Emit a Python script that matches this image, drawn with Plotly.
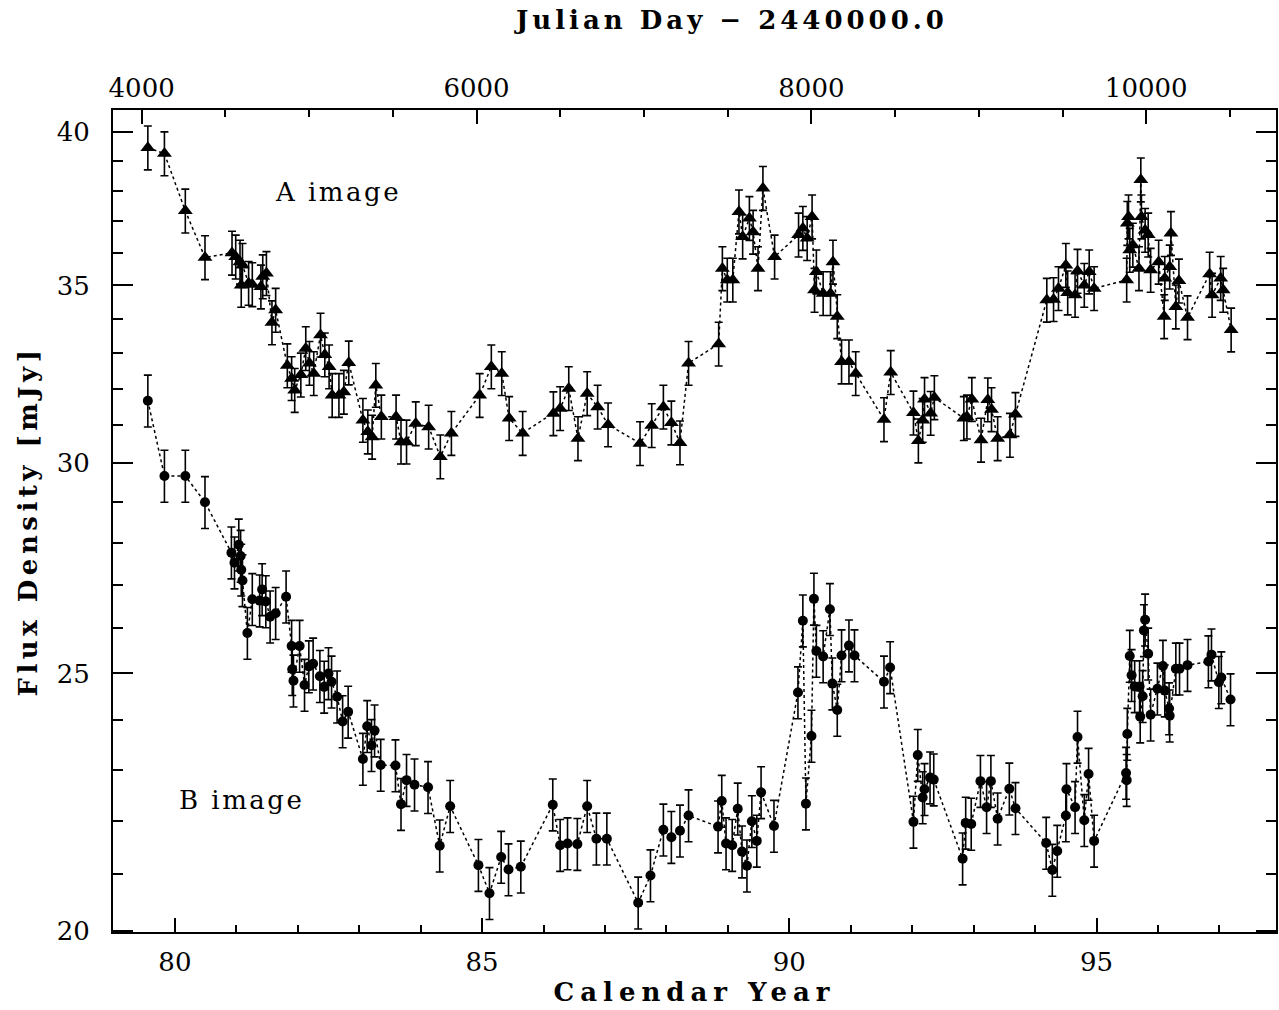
import plotly.graph_objects as go

# Radio light curves of the two lensed images (flux density in mJy)
year_a = [79.56, 79.83, 80.17, 80.49, 80.93, 80.99, 81.06, 81.08, 81.10, 81.20,
          81.26, 81.40, 81.43, 81.49, 81.58, 81.64, 81.83, 81.90, 81.95, 82.05,
          82.13, 82.19, 82.26, 82.37, 82.44, 82.51, 82.56, 82.67, 82.75, 82.83,
          83.06, 83.14, 83.21, 83.27, 83.36, 83.60, 83.68, 83.77, 83.92, 84.13,
          84.32, 84.50, 84.96, 85.15, 85.32, 85.44, 85.66, 86.16, 86.27, 86.41,
          86.56, 86.71, 86.88, 87.05, 87.57, 87.76, 87.95, 88.08, 88.22, 88.36,
          88.85, 88.91, 88.99, 89.08, 89.18, 89.24, 89.35, 89.41, 89.49, 89.57,
          89.76, 90.15, 90.22, 90.29, 90.37, 90.41, 90.44, 90.55, 90.67, 90.71,
          90.78, 90.85, 90.97, 91.08, 91.54, 91.65, 92.02, 92.10, 92.17, 92.20,
          92.30, 92.36, 92.84, 92.89, 92.97, 93.12, 93.23, 93.29, 93.39, 93.59,
          93.68, 94.19, 94.30, 94.38, 94.50, 94.53, 94.65, 94.69, 94.80, 94.88,
          94.96, 95.49, 95.50, 95.52, 95.54, 95.59, 95.69, 95.72, 95.73, 95.79,
          95.84, 95.88, 96.01, 96.10, 96.11, 96.19, 96.21, 96.29, 96.34, 96.48,
          96.84, 96.88, 97.02, 97.06, 97.19]
flux_a = [39.44, 39.24, 37.34, 35.86, 36.00, 35.88, 35.72, 35.01, 35.62, 35.07,
          35.03, 34.96, 35.27, 35.37, 33.89, 34.26, 32.65, 32.29, 31.96, 32.39,
          33.14, 32.72, 32.43, 33.53, 32.96, 32.62, 31.82, 31.82, 31.91, 32.73,
          31.14, 30.83, 30.69, 32.10, 31.23, 31.23, 30.56, 30.56, 31.05, 30.96,
          30.17, 30.79, 31.82, 32.62, 32.43, 31.19, 30.79, 31.32, 31.46, 32.01,
          30.65, 31.87, 31.50, 31.02, 30.52, 31.00, 31.50, 31.07, 30.54, 32.72,
          33.27, 35.52, 35.17, 35.17, 37.31, 36.51, 37.10, 36.66, 35.52, 38.08,
          35.88, 36.57, 36.78, 36.46, 37.15, 34.86, 35.42, 34.76, 34.76, 35.72,
          34.07, 32.76, 32.76, 32.43, 31.16, 32.46, 31.34, 30.59, 31.14, 31.71,
          31.33, 31.76, 31.19, 31.23, 31.71, 30.61, 31.70, 31.43, 30.65, 30.74,
          31.30, 34.56, 34.58, 34.91, 35.62, 34.78, 34.71, 35.44, 35.01, 35.42,
          34.91, 35.17, 36.94, 37.15, 36.09, 36.25, 35.52, 38.36, 37.15, 36.72,
          36.57, 35.47, 35.72, 34.07, 35.22, 35.57, 36.62, 34.36, 35.14, 34.04,
          35.35, 34.71, 35.22, 34.86, 33.68]

year_b = [79.56, 79.83, 80.17, 80.49, 80.92, 80.97, 81.04, 81.07, 81.08, 81.10,
          81.18, 81.26, 81.38, 81.42, 81.48, 81.55, 81.64, 81.81, 81.90, 81.91,
          81.93, 82.03, 82.11, 82.18, 82.25, 82.36, 82.43, 82.50, 82.55, 82.64,
          82.73, 82.82, 83.06, 83.13, 83.20, 83.25, 83.35, 83.59, 83.68, 83.77,
          83.90, 84.12, 84.31, 84.48, 84.94, 85.12, 85.31, 85.43, 85.63, 86.15,
          86.27, 86.39, 86.55, 86.71, 86.86, 87.03, 87.54, 87.74, 87.95, 88.08,
          88.22, 88.36, 88.84, 88.90, 88.97, 89.07, 89.16, 89.23, 89.31, 89.39,
          89.47, 89.54, 89.75, 90.14, 90.22, 90.27, 90.36, 90.40, 90.44, 90.55,
          90.66, 90.70, 90.78, 90.85, 90.97, 91.06, 91.54, 91.64, 92.02, 92.09,
          92.17, 92.20, 92.29, 92.35, 92.82, 92.87, 92.96, 93.11, 93.21, 93.28,
          93.39, 93.58, 93.68, 94.18, 94.28, 94.36, 94.50, 94.51, 94.65, 94.69,
          94.80, 94.87, 94.96, 95.48, 95.49, 95.50, 95.54, 95.57, 95.62, 95.70,
          95.71, 95.75, 95.77, 95.79, 95.84, 95.88, 95.99, 96.08, 96.11, 96.18,
          96.19, 96.29, 96.35, 96.48, 96.82, 96.87, 96.99, 97.03, 97.18]
flux_b = [31.67, 29.67, 29.67, 29.00, 27.76, 27.52, 27.95, 27.68, 27.35, 27.10,
          25.89, 26.66, 26.63, 26.89, 26.61, 26.26, 26.34, 26.72, 25.60, 25.09,
          24.84, 25.60, 24.75, 25.15, 25.21, 24.94, 24.71, 25.00, 24.82, 24.50,
          23.98, 24.18, 23.21, 23.88, 23.49, 23.79, 23.09, 23.08, 22.32, 22.79,
          22.70, 22.65, 21.53, 22.28, 21.17, 20.66, 21.32, 21.09, 21.14, 22.31,
          21.54, 21.57, 21.56, 22.28, 21.66, 21.66, 20.49, 20.98, 21.83, 21.69,
          21.81, 22.10, 21.89, 22.38, 21.57, 21.54, 22.23, 21.42, 21.16, 21.99,
          21.62, 22.55, 21.90, 24.59, 26.17, 22.33, 23.68, 26.67, 25.49, 25.37,
          26.43, 24.78, 24.22, 25.39, 25.61, 25.39, 24.82, 25.13, 21.98, 23.29,
          22.45, 22.61, 22.84, 22.80, 21.29, 21.96, 21.94, 22.77, 22.26, 22.77,
          22.04, 22.62, 22.24, 21.58, 21.08, 21.43, 22.10, 22.61, 22.26, 23.66,
          22.01, 22.91, 21.62, 22.93, 22.79, 23.72, 25.38, 24.96, 24.72, 24.72,
          24.08, 24.51, 25.95, 26.19, 25.43, 24.12, 24.67, 25.16, 24.63, 24.25,
          24.10, 25.10, 25.10, 25.18, 25.26, 25.41, 24.81, 24.91, 24.44]

# Measurement uncertainties, in percent of the flux density
err_pct_a = 1.9
err_pct_b = 2.25

year_major = [80, 85, 90, 95]
year_minor = [79, 81, 82, 83, 84, 86, 87, 88, 89, 91, 92, 93, 94, 96, 97]
jd_major = [4000, 6000, 8000, 10000]
jd_minor = [4500, 5000, 5500, 6500, 7000, 7500, 8500, 9000, 9500, 10500]
flux_major = [20, 25, 30, 35, 40]
flux_minor = [21, 22, 23, 24, 26, 27, 28, 29, 31, 32, 33, 34, 36, 37, 38, 39]

INK = "black"
TICK_FONT = dict(family="DejaVu Serif", size=26, color=INK)
TITLE_FONT = dict(family="DejaVu Serif", size=26, color=INK)
LABEL_FONT = dict(family="DejaVu Serif", size=26, color=INK)


def spaced(text, px, bold=True):
    body = f"<b>{text}</b>" if bold else text
    return f'<span style="letter-spacing:{px}px">{body}</span>'


fig = go.Figure()

fig.add_trace(go.Scatter(
    x=year_a, y=flux_a, mode="lines+markers", name="A image",
    line=dict(color=INK, width=1.5, dash="dot"),
    marker=dict(symbol="triangle-up", size=13, color=INK),
    error_y=dict(type="percent", value=err_pct_a, color=INK, thickness=1.6, width=4),
    showlegend=False,
))
fig.add_trace(go.Scatter(
    x=year_b, y=flux_b, mode="lines+markers", name="B image",
    line=dict(color=INK, width=1.5, dash="dot"),
    marker=dict(symbol="circle", size=10, color=INK),
    error_y=dict(type="percent", value=err_pct_b, color=INK, thickness=1.6, width=4),
    showlegend=False,
))
# Empty trace that attaches the Julian-day scale along the top edge
fig.add_trace(go.Scatter(
    x=[], y=[], xaxis="x2", yaxis="y", mode="markers",
    showlegend=False, hoverinfo="skip",
))

fig.update_layout(
    width=1279, height=1010,
    margin=dict(l=113, r=1, t=110, b=78),
    paper_bgcolor="white", plot_bgcolor="white",
    xaxis=dict(
        range=[78.993, 97.92], showgrid=False, zeroline=False,
        showline=True, linecolor=INK, linewidth=2, mirror=True,
        ticks="inside", ticklen=14, tickwidth=1.5, tickcolor=INK,
        tickmode="array", tickvals=year_major,
        ticktext=[str(v) for v in year_major],
        minor=dict(tickmode="array", tickvals=year_minor, ticks="inside",
                   ticklen=7, tickwidth=1.5, tickcolor=INK),
        tickfont=TICK_FONT, ticklabelstandoff=6,
        title=dict(text=spaced("Calendar Year", 6), font=TITLE_FONT, standoff=5),
    ),
    xaxis2=dict(
        overlaying="x", side="top", anchor="y",
        range=[3828.9, 10775.1], showgrid=False, zeroline=False,
        showline=True, linecolor=INK, linewidth=2,
        ticks="inside", ticklen=14, tickwidth=1.5, tickcolor=INK,
        tickmode="array", tickvals=jd_major,
        ticktext=[str(v) for v in jd_major],
        minor=dict(tickmode="array", tickvals=jd_minor, ticks="inside",
                   ticklen=7, tickwidth=1.5, tickcolor=INK),
        tickfont=TICK_FONT, ticklabelstandoff=1,
    ),
    yaxis=dict(
        type="log", range=[1.30054, 1.61016], showgrid=False, zeroline=False,
        showline=True, linecolor=INK, linewidth=2, mirror="ticks",
        ticks="inside", ticklen=20, tickwidth=1.5, tickcolor=INK,
        tickmode="array", tickvals=flux_major,
        ticktext=[str(v) for v in flux_major],
        minor=dict(tickmode="array", tickvals=flux_minor, ticks="inside",
                   ticklen=10, tickwidth=1.5, tickcolor=INK),
        tickfont=TICK_FONT, ticklabelstandoff=16,
        title=dict(text=spaced("Flux Density [mJy]", 4.5), font=TITLE_FONT, standoff=12),
    ),
    annotations=[
        dict(text=spaced("Julian Day \u2212 2440000.0", 4),
             x=0.3433, y=1.1095, xref="paper", yref="paper",
             xanchor="left", yanchor="middle", showarrow=False, font=TITLE_FONT),
        dict(text=spaced("A image", 2.5, bold=False), x=0.1373, y=0.900,
             xref="paper", yref="paper", xanchor="left", yanchor="middle",
             showarrow=False, font=LABEL_FONT),
        dict(text=spaced("B image", 2.5, bold=False), x=0.0549, y=0.1606,
             xref="paper", yref="paper", xanchor="left", yanchor="middle",
             showarrow=False, font=LABEL_FONT),
    ],
)

fig.write_html("out.html")
